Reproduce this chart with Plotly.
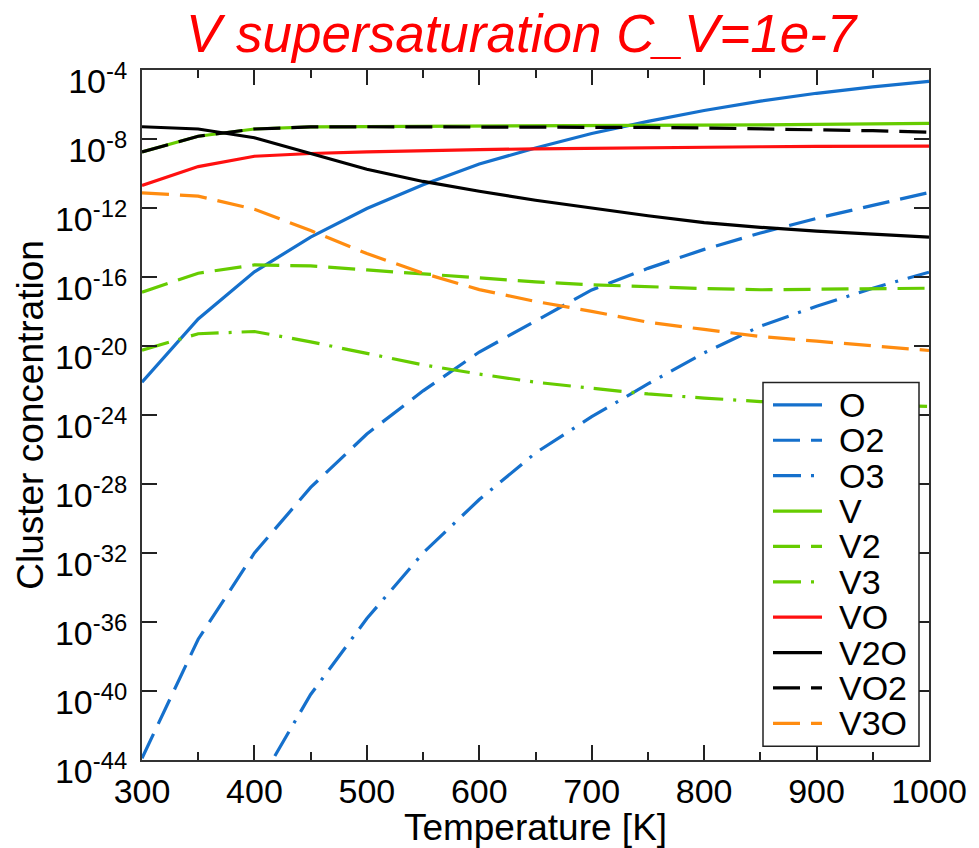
import numpy as np
import plotly.graph_objects as go

# Temperature grid [K]
temperature = [300, 350, 400, 450, 500, 550, 600, 650, 700, 750, 800, 850, 900, 950, 1000]

# log10 of cluster concentration
log_O = [-22.1, -18.43, -15.7, -13.69, -12.03, -10.65, -9.45, -8.52, -7.68, -6.98, -6.35, -5.8, -5.35, -4.98, -4.66]
log_O2 = [-43.9, -37.0, -32.0, -28.2, -25.1, -22.6, -20.35, -18.55, -16.75, -15.5, -14.4, -13.45, -12.6, -11.85, -11.1]
log_O3 = [-45.8, -45.8, -45.8, -40.2, -35.8, -32.0, -28.9, -26.2, -24.1, -22.2, -20.4, -18.85, -17.7, -16.65, -15.72]
log_V = [-8.75, -7.84, -7.42, -7.30, -7.28, -7.27, -7.26, -7.25, -7.24, -7.22, -7.2, -7.18, -7.15, -7.12, -7.10]
log_V2 = [-16.88, -15.78, -15.30, -15.36, -15.59, -15.82, -16.06, -16.28, -16.45, -16.57, -16.67, -16.74, -16.72, -16.68, -16.65]
log_V3 = [-20.24, -19.29, -19.16, -19.76, -20.43, -21.09, -21.63, -22.1, -22.45, -22.78, -23.02, -23.22, -23.35, -23.42, -23.5]
log_VO = [-10.69, -9.60, -9.0, -8.84, -8.75, -8.67, -8.62, -8.57, -8.53, -8.5, -8.47, -8.45, -8.43, -8.42, -8.41]
log_V2O = [-7.29, -7.42, -7.93, -8.84, -9.75, -10.46, -11.03, -11.55, -12.02, -12.45, -12.85, -13.12, -13.34, -13.5, -13.69]
log_VO2 = [-8.75, -7.84, -7.42, -7.30, -7.29, -7.29, -7.29, -7.30, -7.31, -7.33, -7.36, -7.40, -7.45, -7.52, -7.61]
log_V3O = [-11.12, -11.31, -12.07, -13.31, -14.64, -15.78, -16.73, -17.42, -17.99, -18.62, -19.04, -19.45, -19.72, -19.99, -20.26]

series_names = ["O", "O2", "O3", "V", "V2", "V3", "VO", "V2O", "VO2", "V3O"]
series_logs = [log_O, log_O2, log_O3, log_V, log_V2, log_V3, log_VO, log_V2O, log_VO2, log_V3O]

y_tick_exponents = [-44, -40, -36, -32, -28, -24, -20, -16, -12, -8, -4]
x_tick_values = [300, 400, 500, 600, 700, 800, 900, 1000]

BLUE = "#1570cc"
GREEN = "#66cc00"
RED = "#ff1010"
BLACK = "#000000"
ORANGE = "#ff8c10"
DASH = "27px,11px"
DASHDOT = "28px,10px,3px,10px"

styles = {
    "O": (BLUE, "solid"), "O2": (BLUE, DASH), "O3": (BLUE, DASHDOT),
    "V": (GREEN, "solid"), "V2": (GREEN, DASH), "V3": (GREEN, DASHDOT),
    "VO": (RED, "solid"), "V2O": (BLACK, "solid"), "VO2": (BLACK, DASH),
    "V3O": (ORANGE, DASH),
}

fig = go.Figure()
for name, logs in zip(series_names, series_logs):
    color, dash = styles[name]
    fig.add_trace(go.Scatter(
        x=temperature, y=np.power(10.0, np.array(logs)), mode="lines", name=name,
        line=dict(color=color, width=3.2, dash=dash), showlegend=False,
    ))

FONT = "Liberation Sans, Arial, sans-serif"

fig.update_layout(
    width=979, height=848,
    margin=dict(l=142, r=50, t=70, b=76),
    paper_bgcolor="white", plot_bgcolor="white",
    showlegend=False,
    font=dict(family=FONT, color="black"),
)

fig.update_xaxes(
    range=[300, 1000], tickvals=x_tick_values, ticks="inside", ticklen=15, tickwidth=1.5,
    tickcolor="#222", showline=True, linecolor="#333", linewidth=2, mirror="ticks",
    minor=dict(dtick=50, tick0=300, ticks="inside", ticklen=8, tickwidth=1.5, tickcolor="#222"),
    tickfont=dict(size=34, family=FONT), showgrid=False, zeroline=False,
    title=dict(text="Temperature [K]", font=dict(size=37, family=FONT), standoff=0),
)
fig.update_yaxes(
    type="log", range=[-44, -4],
    tickvals=[10.0 ** e for e in y_tick_exponents],
    ticktext=[f"10<sup>{e}</sup>" for e in y_tick_exponents],
    ticks="inside", ticklen=15, tickwidth=1.5, tickcolor="#222",
    showline=True, linecolor="#333", linewidth=2, mirror="ticks",
    tickfont=dict(size=34, family=FONT), showgrid=False, zeroline=False,
    ticklabelstandoff=6, ticklabelshift=11,
    title=dict(text="Cluster concentration", font=dict(size=37, family=FONT), standoff=0),
)

# Title
fig.add_annotation(
    text="<i>V supersaturation C_V=1e-7</i>", xref="paper", yref="paper",
    x=(522 - 142) / 787, y=(772 - 33) / 702, xanchor="center", yanchor="middle",
    showarrow=False, font=dict(size=53, color="#ff0000", family=FONT),
)

# Legend box (drawn manually to match layout)
def px_to_paper_x(px):
    return (px - 142) / 787

def py_to_paper_y(py):
    return (772 - py) / 702

fig.add_shape(type="rect", xref="paper", yref="paper",
              x0=px_to_paper_x(763), x1=px_to_paper_x(919),
              y0=py_to_paper_y(758), y1=py_to_paper_y(388),
              line=dict(color="#222", width=1.5), fillcolor="white", layer="above")
for i, name in enumerate(series_names):
    color, dash = styles[name]
    yc = py_to_paper_y(410.7 + 36 * i)
    fig.add_shape(type="line", xref="paper", yref="paper",
                  x0=px_to_paper_x(773), x1=px_to_paper_x(822), y0=yc, y1=yc,
                  line=dict(color=color, width=3.2, dash=dash), layer="above")
    fig.add_annotation(text=name, xref="paper", yref="paper",
                       x=px_to_paper_x(837), y=yc, xanchor="left", yanchor="middle",
                       showarrow=False, font=dict(size=34, family=FONT, color="black"))

fig.write_html("out.html")
